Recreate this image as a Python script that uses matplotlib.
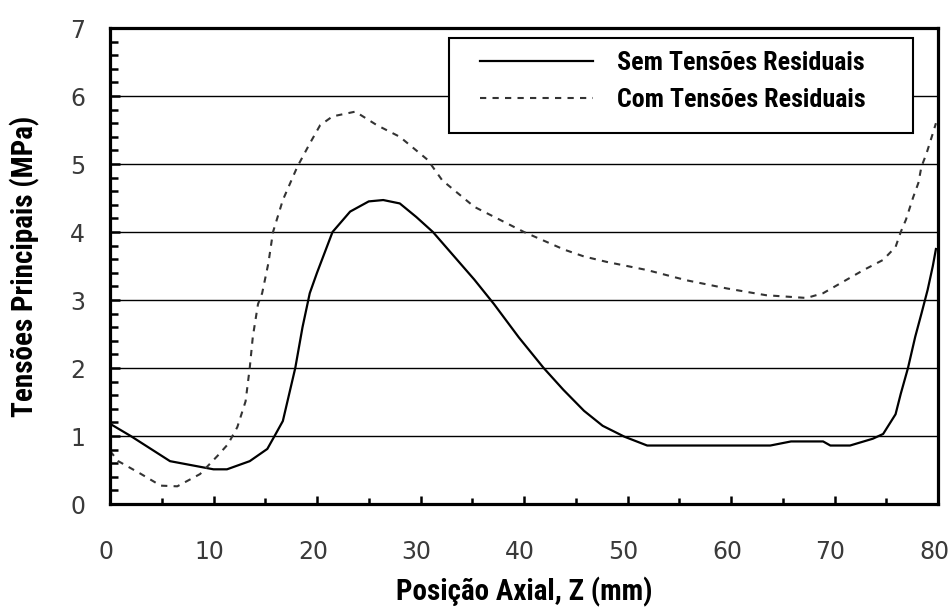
import matplotlib
matplotlib.use("Agg")
import matplotlib.pyplot as plt
from matplotlib import font_manager as fm
from matplotlib.font_manager import FontProperties
from matplotlib.patches import Rectangle
from matplotlib.ticker import MultipleLocator
from matplotlib.transforms import ScaledTranslation

# Sem tensoes residuais (solid)
z_sem = [0, 2.0, 5.8, 10.0, 11.3, 13.5, 15.2, 15.9, 16.7, 17.9, 18.6, 19.3, 20.0,
         21.5, 23.2, 25.0, 26.4, 28.0, 29.6, 31.2, 33.2, 35.2, 37.1, 39.5, 41.9,
         43.8, 45.8, 47.6, 49.7, 51.9, 55.0, 60.0, 63.8, 65.8, 68.9, 69.6, 71.5,
         73.7, 74.7, 75.9, 76.4, 77.1, 77.8, 78.4, 79.0, 79.5, 79.8]
s_sem = [1.18, 1.0, 0.63, 0.51, 0.51, 0.63, 0.81, 1.0, 1.22, 2.0, 2.6, 3.1, 3.4,
         4.0, 4.3, 4.45, 4.47, 4.42, 4.22, 4.0, 3.65, 3.3, 2.94, 2.45, 2.0,
         1.68, 1.37, 1.15, 0.99, 0.86, 0.86, 0.86, 0.86, 0.92, 0.92, 0.86, 0.86,
         0.96, 1.03, 1.32, 1.62, 2.0, 2.46, 2.8, 3.15, 3.5, 3.75]

# Com tensoes residuais (dashed)
z_com = [0, 0.8, 2.9, 4.9, 6.5, 8.7, 10.4, 11.4, 12.3, 13.1, 13.5, 13.8, 14.3,
         14.7, 15.3, 15.75, 16.7, 18.1, 19.3, 20.3, 21.5, 23.7, 25.8, 28.0,
         30.7, 32.1, 35.2, 40.0, 43.9, 45.8, 48.0, 51.9, 55.7, 59.6, 63.4, 67.3,
         68.9, 72.8, 74.7, 75.9, 76.4, 76.9, 77.6, 78.1, 78.4, 78.9, 79.5, 79.8]
s_com = [0.78, 0.63, 0.45, 0.27, 0.26, 0.44, 0.71, 0.88, 1.13, 1.51, 2.0, 2.46, 2.94,
         3.1, 3.54, 4.0, 4.47, 4.96, 5.3, 5.57, 5.7, 5.77, 5.57, 5.4,
         5.06, 4.76, 4.37, 4.0, 3.74, 3.64, 3.56, 3.44, 3.29, 3.17, 3.07, 3.03,
         3.1, 3.44, 3.59, 3.78, 4.0, 4.18, 4.51, 4.72, 4.96, 5.16, 5.45, 5.6]

labels = ["Sem Tensões Residuais", "Com Tensões Residuais"]
xlabel = "Posição Axial, Z (mm)"
ylabel = "Tensões Principais (MPa)"


def bold_narrow():
    # look for an Arial-Narrow-like bold face, else plain Liberation Sans bold
    wanted = ["Liberation Sans Narrow", "Arial Narrow", "Roboto Condensed",
              "Open Sans Condensed"]
    fonts = fm.fontManager.ttflist
    for name in wanted:
        for f in fonts:
            if f.name == name and f.weight in (700, "bold") and f.style == "normal":
                return FontProperties(fname=f.fname)
    for f in fonts:
        if f.name in ("Noto Sans", "Roboto") and f.stretch == "condensed" \
                and f.weight in (700, "bold") and f.style == "normal":
            return FontProperties(fname=f.fname)
    return FontProperties(family=["Liberation Sans", "DejaVu Sans"], weight="bold")


fig = plt.figure(figsize=(9.5, 6.08), dpi=100)
renderer = fig.canvas.get_renderer()


def fit(text, fp, target_px):
    fp = fp.copy()
    fp.set_size(10)
    t = fig.text(0, 0, text, fontproperties=fp)
    w = t.get_window_extent(renderer).width
    t.remove()
    fp.set_size(min(10 * target_px / w, 21))
    return fp


base = bold_narrow()
fp_x = fit(xlabel, base, 268)
fp_y = fit(ylabel, base, 310)
fp_leg = fit(labels[0], base, 248)

ax = fig.add_axes([110 / 950, 1 - 504 / 608, 828 / 950, 476 / 608])

ax.plot(z_sem, s_sem, color="black", lw=1.6, label=labels[0], zorder=2)
ax.plot(z_com, s_com, color="#333333", lw=1.5, dashes=(3, 3), label=labels[1], zorder=2)

ax.set_xlim(0, 80)
ax.set_ylim(0, 7)
ax.xaxis.set_major_locator(MultipleLocator(10))
ax.xaxis.set_minor_locator(MultipleLocator(5))
ax.yaxis.set_major_locator(MultipleLocator(1))
ax.yaxis.set_minor_locator(MultipleLocator(0.2))

ax.grid(True, axis="y", which="major", color="black", lw=1.0)

for sp in ax.spines.values():
    sp.set_linewidth(2.3)

ax.tick_params(axis="y", which="major", direction="in", length=7.5, width=1.8,
               pad=18, labelsize=17, labelcolor="#3a3a3a")
ax.tick_params(axis="y", which="minor", direction="in", length=5.5, width=1.8)
ax.tick_params(axis="x", which="major", direction="in", length=6, width=1.8,
               pad=26, labelsize=17, labelcolor="#3a3a3a")
ax.tick_params(axis="x", which="minor", direction="in", length=4, width=1.8)
shift = ScaledTranslation(-4 / 100, 0, fig.dpi_scale_trans)
for lab in ax.get_xticklabels():
    lab.set_family("DejaVu Sans")
    lab.set_transform(lab.get_transform() + shift)
for lab in ax.get_yticklabels():
    lab.set_family("DejaVu Sans")

ax.set_xlabel(xlabel, fontproperties=fp_x)
ax.set_ylabel(ylabel, fontproperties=fp_y)
ax.xaxis.set_label_coords(0.5, -0.153)
ax.yaxis.set_label_coords(-0.084, 0.5)

# legend box
box = Rectangle((0.409, 0.779), 0.561, 0.2, transform=ax.transAxes,
                facecolor="white", edgecolor="black", lw=1.5, zorder=3)
ax.add_patch(box)
leg = ax.legend(loc="upper left", bbox_to_anchor=(0.447, 0.951), frameon=False,
                borderpad=0, borderaxespad=0, handlelength=4.35, handletextpad=0.92,
                labelspacing=0.5, prop=fp_leg)
leg.set_zorder(5)

fig.savefig("out.png", dpi=100)
